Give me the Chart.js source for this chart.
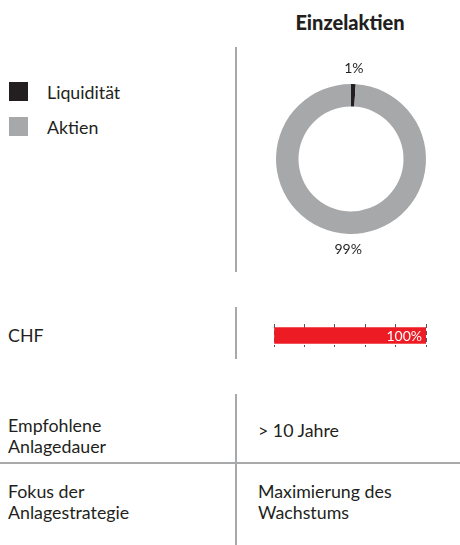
<!DOCTYPE html>
<html>
<head>
<meta charset="utf-8">
<script src="https://cdn.jsdelivr.net/npm/chart.js@4"></script>
<style>
  html, body { margin: 0; padding: 0; background: #fff; }
  body { width: 460px; height: 545px; position: relative; overflow: hidden;
         font-family: Lato, "Open Sans", sans-serif; color: #231f20; }
  .txt { position: absolute; font-size: 17.8px; line-height: 21px; white-space: nowrap; }
  .title { position: absolute; font-weight: 900; font-size: 20px; line-height: 21px; left: 236px; width: 228px; text-align: center; }
  .vline { position: absolute; width: 2px; background: #a8a9ab; left: 235px; }
  .hline { position: absolute; height: 2px; background: #a8a9ab; left: 0; width: 460px; }
  .swatch { position: absolute; width: 19px; height: 19px; left: 9px; }
  canvas { position: absolute; }
</style>
</head>
<body>
<div class="title" style="top:12px">Einzelaktien</div>

<div class="vline" style="top:47px;height:225px"></div>
<div class="vline" style="top:307px;height:52px"></div>
<div class="vline" style="top:394px;height:151px"></div>
<div class="hline" style="top:462px"></div>

<div id="legend"></div>
<div id="barLabel"></div>
<div id="table"></div>

<div style="position:absolute;left:250px;top:40px;width:202px;height:238px">
  <canvas id="donut"></canvas>
</div>
<div style="position:absolute;left:268px;top:324px;width:164px;height:23px">
  <canvas id="bar"></canvas>
</div>

<script>
// Asset allocation (doughnut)
const allocLabels = ['Liquidität', 'Aktien'];
const allocValues = [1, 99];
const allocColors = ['#231f20', '#a7a8aa'];

// Currency allocation (bar)
const currencyLabels = ['CHF'];
const currencyValues = [100];

// Info rows below the charts
const infoKeys = [['Empfohlene', 'Anlagedauer'], ['Fokus der', 'Anlagestrategie']];
const infoValues = [['> 10 Jahre'], ['Maximierung des', 'Wachstums']];

// Legend
const legend = document.getElementById('legend');
allocLabels.forEach((label, i) => {
    const top = 82 + i * 35;
    legend.innerHTML += `<div class="swatch" style="top:${top}px;background:${allocColors[i]}"></div>` +
        `<div class="txt" style="left:47px;top:${top}px">${label}</div>`;
});

// Currency label
document.getElementById('barLabel').innerHTML =
    `<div class="txt" style="left:8px;top:325px">${currencyLabels[0]}</div>`;

// Info table
const table = document.getElementById('table');
const keyTops = [415, 481];
const valTops = [420, 481];
infoKeys.forEach((lines, r) => {
    table.innerHTML += `<div class="txt" style="left:8px;top:${keyTops[r]}px">${lines.join('<br>')}</div>`;
    table.innerHTML += `<div class="txt" style="left:258px;top:${valTops[r]}px">${infoValues[r].join('<br>')}</div>`;
});

// Percent labels outside the doughnut
const outerLabels = {
    id: 'outerLabels',
    afterDatasetsDraw(chart) {
        const ctx = chart.ctx;
        const meta = chart.getDatasetMeta(0);
        ctx.save();
        ctx.font = '14px Lato, sans-serif';
        ctx.fillStyle = '#231f20';
        ctx.textAlign = 'center';
        ctx.textBaseline = 'middle';
        meta.data.forEach((arc, i) => {
            const p = arc.getProps(['x', 'y', 'startAngle', 'endAngle', 'outerRadius']);
            const mid = (p.startAngle + p.endAngle) / 2;
            const r = p.outerRadius + 16;
            ctx.fillText(allocValues[i] + '%', p.x + Math.cos(mid) * r, p.y + Math.sin(mid) * r);
        });
        ctx.restore();
    }
};

new Chart(document.getElementById('donut'), {
    type: 'doughnut',
    data: {
        labels: allocLabels,
        datasets: [{
            data: allocValues,
            backgroundColor: allocColors,
            borderWidth: 0
        }]
    },
    options: {
        responsive: true,
        maintainAspectRatio: false,
        animation: false,
        cutout: '70%',
        layout: { padding: { top: 44, bottom: 44, left: 26, right: 26 } },
        plugins: { legend: { display: false }, tooltip: { enabled: false } }
    },
    plugins: [outerLabels]
});

// Value label inside the bar
const barValueLabel = {
    id: 'barValueLabel',
    afterDraw(chart) {
        const ctx = chart.ctx;
        const bar = chart.getDatasetMeta(0).data[0];
        ctx.save();
        ctx.font = '14px Lato, sans-serif';
        ctx.fillStyle = '#ffffff';
        ctx.textAlign = 'right';
        ctx.textBaseline = 'middle';
        ctx.fillText(currencyValues[0] + '%', bar.x - 4, bar.y + 1);
        ctx.restore();
    }
};

new Chart(document.getElementById('bar'), {
    type: 'bar',
    data: {
        labels: currencyLabels,
        datasets: [{
            data: currencyValues,
            backgroundColor: '#ed1c24',
            barThickness: 16
        }]
    },
    options: {
        indexAxis: 'y',
        responsive: true,
        maintainAspectRatio: false,
        animation: false,
        layout: { padding: { left: 6, right: 6 } },
        scales: {
            x: {
                min: 0,
                max: 100,
                z: 1,
                ticks: { display: false, stepSize: 20 },
                grid: { drawTicks: false, color: '#555555', lineWidth: 1 },
                border: { display: false, dash: [4, 3] }
            },
            y: { display: false }
        },
        plugins: { legend: { display: false }, tooltip: { enabled: false } }
    },
    plugins: [barValueLabel]
});
</script>
</body>
</html>
